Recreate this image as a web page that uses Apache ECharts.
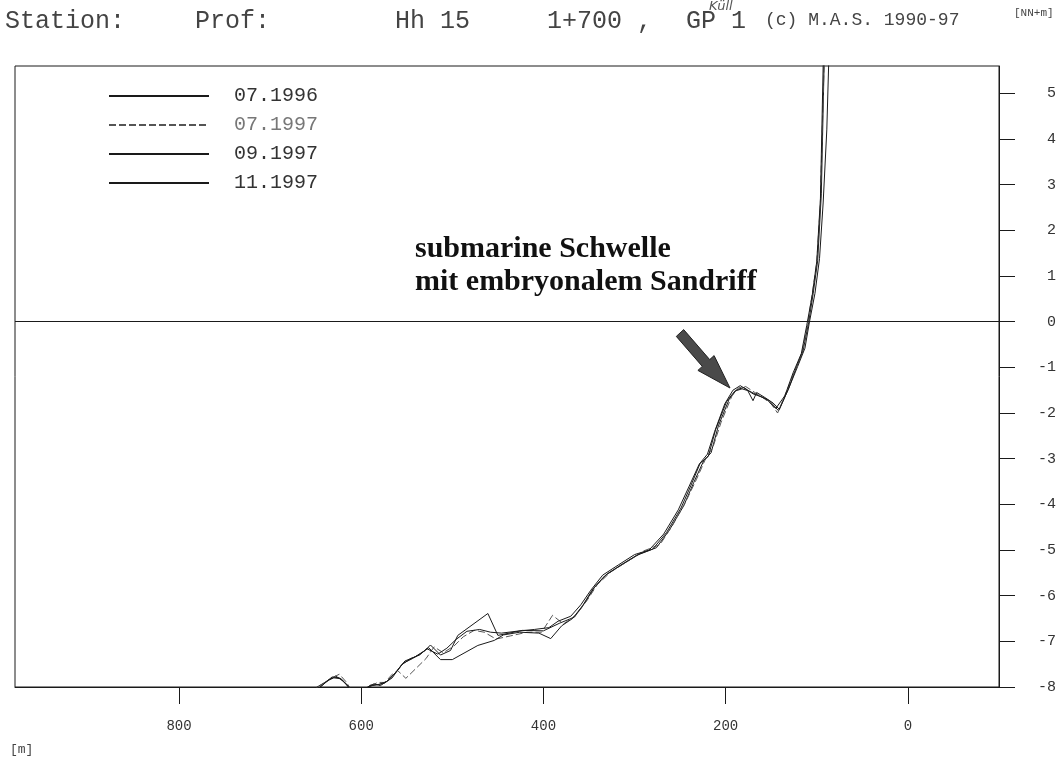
<!DOCTYPE html>
<html>
<head>
<meta charset="utf-8">
<script src="https://cdn.jsdelivr.net/npm/echarts@6/dist/echarts.min.js"></script>
<style>
  html, body { margin: 0; padding: 0; background: #fff; }
  #chart { width: 1059px; height: 759px; }
</style>
</head>
<body>
<div id="chart"></div>
<script>
// survey dates (legend)
const surveys = ['07.1996', '07.1997', '09.1997', '11.1997'];

// profile points: [distance m, height NN+m]
const prof9607 = [[672,-8.3],[650,-8.02],[640,-7.9],[628,-7.76],[619,-7.88],[612,-8.02],[604,-8.2],
  [593,-8.0],[586,-7.93],[579,-7.97],[570,-7.85],[560,-7.63],[552,-7.43],[541,-7.34],[530,-7.2],
  [524,-7.08],[513,-7.3],[502,-7.2],[494,-6.87],[461,-6.39],[450,-6.87],[440,-6.83],[423,-6.76],
  [400,-6.77],[382,-6.6],[366,-6.47],[355,-6.17],[344,-5.82],[330,-5.52],[312,-5.3],[294,-5.08],
  [276,-4.95],[262,-4.57],[246,-4.03],[235,-3.52],[224,-3.04],[216,-2.87],[208,-2.28],[196,-1.69],
  [188,-1.49],[180,-1.44],[170,-1.58],[161,-1.64],[152,-1.73],[142,-1.95],[131,-1.47],[123,-1.03],
  [115,-0.63],[109,-0.02],[104,0.61],[99,1.34],[95,2.8],[92,5.6],[91,6.5]];

const prof9707 = [[668,-8.25],[646,-7.98],[634,-7.82],[624,-7.72],[616,-7.9],[610,-8.1],[600,-8.15],
  [590,-7.98],[582,-7.9],[574,-7.9],[566,-7.72],[560,-7.64],[551,-7.81],[529,-7.38],[520,-7.12],
  [510,-7.25],[498,-7.1],[488,-6.9],[476,-6.76],[465,-6.8],[452,-6.95],[436,-6.88],[418,-6.8],
  [402,-6.8],[390,-6.43],[378,-6.62],[364,-6.42],[352,-6.1],[341,-5.76],[326,-5.48],[308,-5.25],
  [290,-5.02],[272,-4.88],[258,-4.45],[244,-3.95],[232,-3.45],[222,-3.0],[214,-2.75],[205,-2.2],
  [193,-1.62],[186,-1.45],[178,-1.42],[168,-1.55],[158,-1.68],[150,-1.8],[143,-2.0],[133,-1.52],
  [124,-1.07],[116,-0.66],[110,-0.05],[105,0.6],[100,1.3],[96,2.6],[94,4.2],[92,5.6],[91,6.5]];

const prof9709 = [[665,-8.3],[645,-8.0],[636,-7.85],[630,-7.8],[622,-7.82],[614,-8.0],[606,-8.2],
  [595,-8.03],[588,-7.97],[580,-7.94],[572,-7.88],[562,-7.68],[554,-7.48],[544,-7.38],[534,-7.26],
  [526,-7.14],[513,-7.4],[500,-7.4],[472,-7.09],[454,-6.98],[444,-6.86],[426,-6.8],[405,-6.82],
  [392,-6.94],[380,-6.66],[368,-6.5],[357,-6.22],[346,-5.86],[333,-5.57],[316,-5.34],[298,-5.12],
  [280,-4.98],[265,-4.62],[249,-4.08],[238,-3.58],[228,-3.1],[219,-2.95],[211,-2.36],[199,-1.75],
  [190,-1.52],[182,-1.47],[174,-1.52],[164,-1.62],[155,-1.7],[145,-1.9],[135,-1.62],[126,-1.12],
  [117,-0.7],[111,-0.08],[105,0.58],[100,1.32],[96,2.7],[93,5.6],[92,6.5]];

const prof9711 = [[662,-8.35],[648,-8.05],[642,-7.95],[632,-7.78],[624,-7.8],[616,-7.95],[608,-8.15],
  [598,-8.1],[590,-7.96],[582,-7.95],[575,-7.92],[566,-7.8],[556,-7.52],[546,-7.38],[536,-7.3],
  [528,-7.16],[516,-7.28],[506,-7.15],[496,-6.96],[484,-6.78],[470,-6.74],[458,-6.8],[446,-6.82],
  [430,-6.78],[410,-6.74],[394,-6.7],[384,-6.56],[370,-6.45],[359,-6.2],[348,-5.88],[335,-5.55],
  [318,-5.33],[300,-5.1],[284,-5.0],[268,-4.65],[252,-4.12],[240,-3.6],[229,-3.12],[220,-2.9],
  [212,-2.4],[201,-1.8],[192,-1.5],[184,-1.4],[176,-1.5],[170,-1.73],[166,-1.55],[157,-1.66],
  [148,-1.78],[141,-1.92],[130,-1.42],[121,-0.98],[113,-0.58],[108,0.0],[102,0.62],[97,1.38],
  [93,2.6],[89,4.2],[87,5.6],[86,6.5]];

const xTicks = [0, 200, 400, 600, 800];
const yTicks = [-8, -7, -6, -5, -4, -3, -2, -1, 0, 1, 2, 3, 4, 5];

const mono = '"Liberation Mono", "DejaVu Sans Mono", monospace';
const ink = '#1a1a1a';

const chart = echarts.init(document.getElementById('chart'));

function profile(name, data, extra) {
    return Object.assign({
        name: name,
        type: 'line',
        data: data,
        symbol: 'none',
        clip: true,
        lineStyle: { color: ink, width: 1 },
        itemStyle: { color: ink },
    }, extra || {});
}

chart.setOption({
    animation: false,
    backgroundColor: '#fff',
    grid: {
        left: 15, right: 55, top: 66, bottom: 72,
        show: true, borderColor: ink, borderWidth: 1,
    },
    legend: {
        orient: 'vertical',
        left: 108, top: 86,
        padding: 0,
        itemWidth: 100, itemHeight: 10, itemGap: 9,
        itemStyle: { opacity: 0 },
        data: [
            { name: surveys[0] },
            { name: surveys[1], textStyle: { color: '#777' } },
            { name: surveys[2] },
            { name: surveys[3] },
        ],
        textStyle: { fontFamily: mono, fontSize: 20, lineHeight: 20, color: '#333', padding: [0, 0, 0, 20] },
    },
    xAxis: {
        type: 'value',
        inverse: true,
        min: -100, max: 980,
        axisLine: { onZero: false, lineStyle: { color: ink, width: 1 } },
        axisTick: { show: true, length: 17, lineStyle: { color: ink }, customValues: xTicks },
        axisLabel: { customValues: xTicks, margin: 32, fontFamily: mono, fontSize: 14, color: '#333' },
        splitLine: { show: false },
    },
    yAxis: {
        type: 'value',
        position: 'right',
        min: -8, max: 5.6,
        axisLine: { show: true, onZero: false, lineStyle: { color: ink, width: 1 } },
        axisTick: { show: true, length: 16, lineStyle: { color: ink }, customValues: yTicks },
        axisLabel: { customValues: yTicks, align: 'right', margin: 57, fontFamily: mono, fontSize: 15, color: '#333' },
        splitLine: { show: false },
    },
    series: [
        profile(surveys[0], prof9607, {
            markLine: {
                silent: true,
                symbol: ['none', 'none'],
                label: { show: false },
                lineStyle: { color: ink, type: 'solid', width: 1 },
                data: [{ yAxis: 0 }],
            },
        }),
        profile(surveys[1], prof9707, { lineStyle: { color: '#555', width: 1, type: [7, 3] } }),
        profile(surveys[2], prof9709),
        profile(surveys[3], prof9711),
    ],
    graphic: [
        { type: 'text', left: 5, top: 9, style: { text: 'Station:', font: '25px ' + mono, fill: '#444' } },
        { type: 'text', left: 195, top: 9, style: { text: 'Prof:', font: '25px ' + mono, fill: '#444' } },
        { type: 'text', left: 395, top: 9, style: { text: 'Hh 15', font: '25px ' + mono, fill: '#444' } },
        { type: 'text', left: 547, top: 9, style: { text: '1+700 ,', font: '25px ' + mono, fill: '#444' } },
        { type: 'text', left: 686, top: 9, style: { text: 'GP 1', font: '25px ' + mono, fill: '#444' } },
        { type: 'text', left: 709, top: 0, style: { text: 'Küll', font: 'italic 13px "DejaVu Sans"', fill: '#555' } },
        { type: 'text', left: 765, top: 11, style: { text: '(c) M.A.S. 1990-97', font: '18px ' + mono, fill: '#444' } },
        { type: 'text', left: 1014, top: 8, style: { text: '[NN+m]', font: '11px ' + mono, fill: '#444' } },
        { type: 'text', left: 10, top: 743, style: { text: '[m]', font: '13px ' + mono, fill: '#444' } },
        {
            type: 'text', left: 415, top: 233,
            style: {
                text: 'submarine Schwelle\nmit embryonalem Sandriff',
                font: 'bold 30px "Liberation Serif", "Times New Roman", serif',
                lineHeight: 33, fill: '#111',
            },
        },
        {
            type: 'polygon',
            shape: {
                points: [[683.7, 329.6], [709.7, 359.6], [714.1, 355.6], [730, 388],
                    [697.9, 370.4], [702.3, 366.4], [676.3, 336.4]],
            },
            style: { fill: '#4a4a4a', stroke: '#222', lineWidth: 1 },
        },
    ],
});
</script>
</body>
</html>
